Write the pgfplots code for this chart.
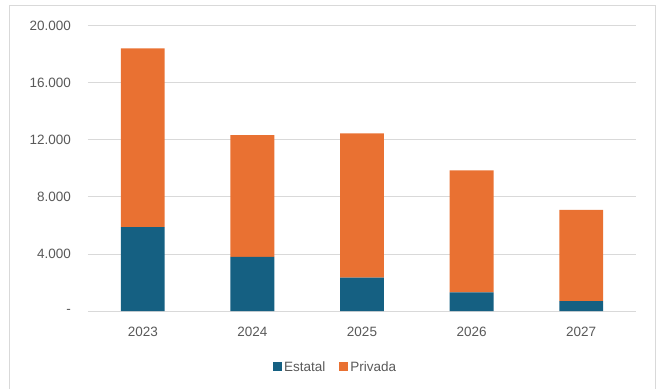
\documentclass[border=0pt]{standalone}
\usepackage{fontspec}
\setmainfont{Liberation Sans}
\usepackage{pgfplots}
\pgfplotsset{compat=1.18}
\definecolor{estatal}{HTML}{156082}
\definecolor{privada}{HTML}{E97132}
\definecolor{gridc}{HTML}{D9D9D9}
\definecolor{txt}{HTML}{595959}
\begin{document}
\begin{tikzpicture}
\useasboundingbox (-88bp,-78bp) rectangle (569bp,311bp);
\draw[gridc, line width=1bp] (-78bp,-90bp) -- (-78bp,305bp) -- (567bp,305bp) -- (567bp,-90bp);
\begin{axis}[
  scale only axis,
  width=548bp, height=285bp,
  ybar stacked,
  bar width=0.4,
  xmin=-0.5, xmax=4.5,
  ymin=0, ymax=20000,
  scaled y ticks=false,
  xtick={0,1,2,3,4},
  xticklabels={2023,2024,2025,2026,2027},
  ytick={0,4000,8000,12000,16000,20000},
  yticklabels={-,4.000,8.000,12.000,16.000,20.000},
  ymajorgrids,
  major grid style={gridc, line width=1bp},
  axis line style={draw=none},
  tick style={draw=none},
  tick label style={font=\fontsize{13.5bp}{16bp}\selectfont, text=txt},
  yticklabel style={xshift=-13.5bp},
  xticklabel style={yshift=-12.5bp},
  legend columns=2,
  legend style={draw=none, fill=none, at={(0.452,-0.196)}, anchor=center,
    font=\fontsize{13.5bp}{16bp}\selectfont, text=txt,
    /tikz/every even column/.append style={column sep=12bp}},
]
\addplot[fill=estatal, draw=none,
  legend image code/.code={\fill[estatal] (0bp,-4.5bp) rectangle (9bp,4.5bp);}]
  coordinates {(0,5890) (1,3790) (2,2340) (3,1310) (4,700)};
\addlegendentry{Estatal}
\addplot[fill=privada, draw=none,
  legend image code/.code={\fill[privada] (0bp,-4.5bp) rectangle (9bp,4.5bp);}]
  coordinates {(0,12540) (1,8560) (2,10130) (3,8560) (4,6390)};
\addlegendentry{Privada}
\end{axis}
\end{tikzpicture}
\end{document}
